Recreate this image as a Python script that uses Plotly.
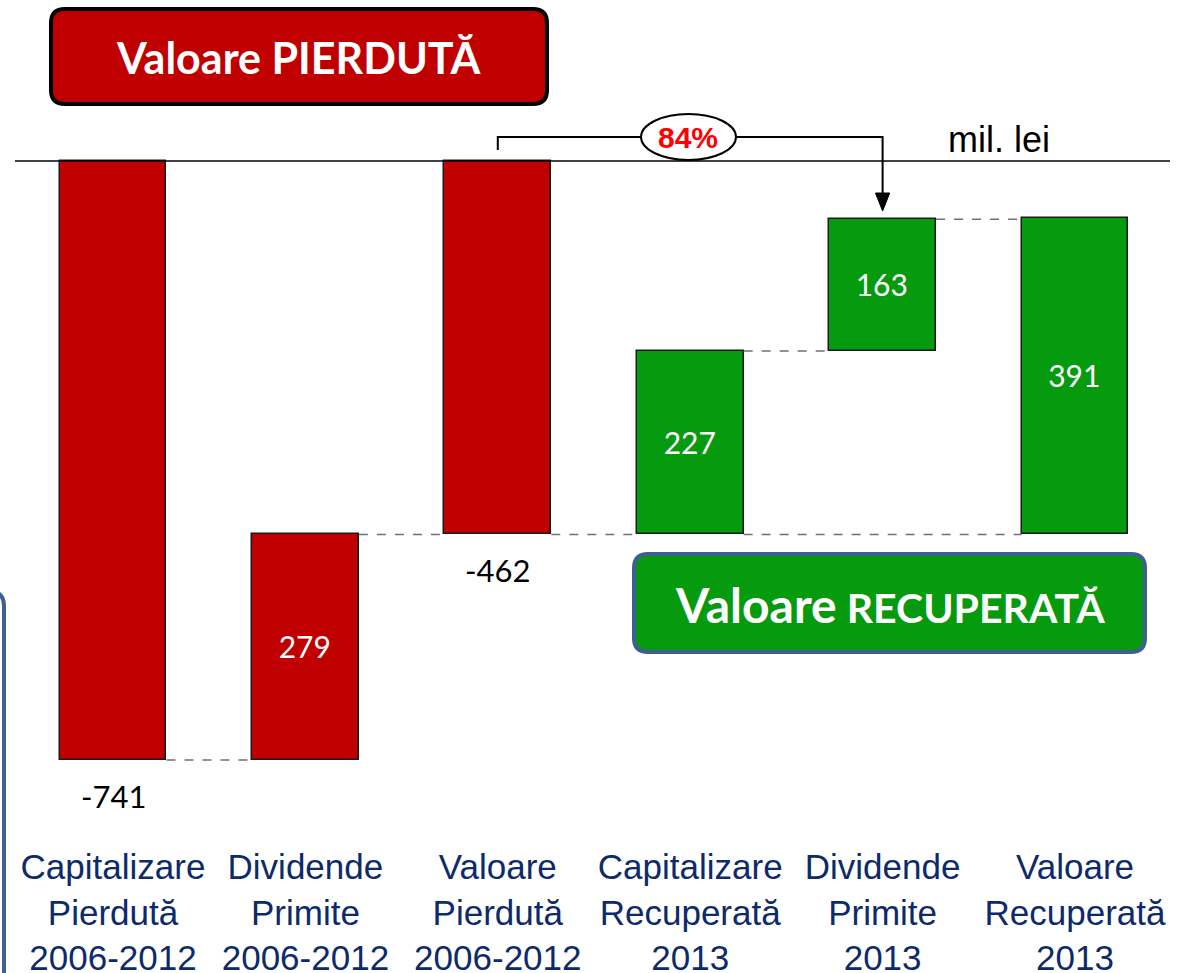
import plotly.graph_objects as go

# ---------------- data ----------------
categories = [
    "Capitalizare<br>Pierdută<br>2006-2012",
    "Dividende<br>Primite<br>2006-2012",
    "Valoare<br>Pierdută<br>2006-2012",
    "Capitalizare<br>Recuperată<br>2013",
    "Dividende<br>Primite<br>2013",
    "Valoare<br>Recuperată<br>2013",
]
values = [-741, 279, -462, 227, 163, 391]
bases = [0, -741, 0, -462, -235, -462]
bar_colors = ["#C00000", "#C00000", "#C00000", "#069A0E", "#069A0E", "#069A0E"]
percent_label = "84%"
unit_label = "mil. lei"
title_lost = "Valoare PIERDUTĂ"
title_rec_a = "Valoare"
title_rec_b = "RECUPERATĂ"

# ---------------- geometry helpers ----------------
W, H = 1178, 973
PLOT_BOTTOM = 840          # pixel y of plot area bottom
BW = 0.556                 # bar width in category units
PX_PER_UNIT = 0.8084
ZERO_PX = 161
X0_PX, STEP_PX = 113, 192.4

def px_x(px):
    return px / W

def px_y(py):
    return (PLOT_BOTTOM - py) / PLOT_BOTTOM

def val_from_px(py):
    return (ZERO_PX - py) / PX_PER_UNIT

def cat_from_px(px):
    return (px - X0_PX) / STEP_PX

def rounded_rect(x0, y0, x1, y1, r):
    pts = [
        ("M", (x0 + r, y0)), ("L", (x1 - r, y0)), ("Q", (x1, y0), (x1, y0 + r)),
        ("L", (x1, y1 - r)), ("Q", (x1, y1), (x1 - r, y1)), ("L", (x0 + r, y1)),
        ("Q", (x0, y1), (x0, y1 - r)), ("L", (x0, y0 + r)), ("Q", (x0, y0), (x0 + r, y0)),
    ]
    out = []
    for p in pts:
        cmd = p[0]
        coords = " ".join(f"{px_x(a):.5f},{px_y(b):.5f}" for a, b in p[1:])
        out.append(f"{cmd}{coords}")
    return " ".join(out) + " Z"

x_idx = list(range(len(categories)))
ends = [b + v for b, v in zip(bases, values)]

fig = go.Figure()

# ---------------- connectors ----------------
connectors = [(0, 1, ends[0]), (1, 2, ends[1]), (2, 3, bases[3]),
              (3, 4, ends[3]), (4, 5, ends[4]), (3, 5, bases[5])]
cx, cy = [], []
for a, b, lvl in connectors:
    cx += [a + BW / 2, b - BW / 2, None]
    cy += [lvl, lvl, None]
fig.add_trace(go.Scatter(x=cx, y=cy, mode="lines",
                         line=dict(color="#707070", width=1.5, dash="dash"),
                         hoverinfo="skip", showlegend=False))

# ---------------- bars ----------------
inside_text = [str(v) if v > 0 else "" for v in values]
fig.add_trace(go.Bar(
    x=x_idx, y=values, base=bases, width=BW,
    marker=dict(color=bar_colors, line=dict(color="#1a1a1a", width=1.5)),
    text=inside_text, textposition="inside", insidetextanchor="middle",
    textfont=dict(family="Lato", size=30, color="white"),
    constraintext="none", showlegend=False, hoverinfo="skip",
))

# negative totals labels below bars
for i, v in enumerate(values):
    if v < 0:
        fig.add_annotation(x=i, y=ends[i], text=str(v), showarrow=False,
                           yshift=-36, yanchor="middle",
                           font=dict(family="Lato", size=31, color="black"))

# ---------------- shapes ----------------
shapes = []
# zero line
shapes.append(dict(type="line", xref="paper", yref="y", x0=px_x(15), x1=px_x(1170),
                   y0=0, y1=0, line=dict(color="black", width=1.5), layer="above"))
# bracket
yb = val_from_px(137)
yb0 = val_from_px(150)
shapes.append(dict(type="path", xref="x", yref="y",
                   path=f"M2,{yb0} L2,{yb} L4,{yb} L4,{val_from_px(200)}",
                   line=dict(color="black", width=2)))
# arrowhead
tip = val_from_px(211)
top = val_from_px(193)
shapes.append(dict(type="path", xref="x", yref="y",
                   path=f"M{4-0.037},{top} L{4+0.037},{top} L4,{tip} Z",
                   fillcolor="black", line=dict(color="black", width=1)))
# ellipse
shapes.append(dict(type="circle", xref="x", yref="y",
                   x0=cat_from_px(641), x1=cat_from_px(736),
                   y0=val_from_px(160), y1=val_from_px(114),
                   fillcolor="white", line=dict(color="black", width=2)))
# title boxes
shapes.append(dict(type="path", xref="paper", yref="paper",
                   path=rounded_rect(51, 9, 547, 104, 14),
                   fillcolor="#C00000", line=dict(color="black", width=4)))
shapes.append(dict(type="path", xref="paper", yref="paper",
                   path=rounded_rect(634, 554, 1145, 652, 14),
                   fillcolor="#069A0E", line=dict(color="#3E5F8F", width=4)))
# left partial frame
shapes.append(dict(type="path", xref="paper", yref="paper",
                   path=(f"M{px_x(-20):.5f},{px_y(592):.5f} L{px_x(-8):.5f},{px_y(592):.5f} "
                         f"Q{px_x(4):.5f},{px_y(592):.5f} {px_x(4):.5f},{px_y(606):.5f} "
                         f"L{px_x(4):.5f},{px_y(990):.5f}"),
                   line=dict(color="#3E5F8F", width=4)))

# ---------------- annotations ----------------
fig.add_annotation(x=cat_from_px(688), y=val_from_px(137), text=f"<b>{percent_label}</b>",
                   showarrow=False, xanchor="center", yanchor="middle",
                   font=dict(family="Liberation Sans", size=30, color="#FF0000"))
fig.add_annotation(x=cat_from_px(999), y=val_from_px(139), text=unit_label, showarrow=False,
                   xanchor="center", yanchor="middle",
                   font=dict(family="Liberation Sans", size=36, color="black"))
fig.add_annotation(xref="paper", yref="paper", x=px_x(299), y=px_y(58), text=f"<b>{title_lost}</b>",
                   showarrow=False, xanchor="center", yanchor="middle",
                   font=dict(family="Lato", size=43, color="white"))
fig.add_annotation(xref="paper", yref="paper", x=px_x(890), y=px_y(604),
                   text=f"<b><span style='font-size:48px'>{title_rec_a}</span> {title_rec_b}</b>",
                   showarrow=False, xanchor="center", yanchor="middle",
                   font=dict(family="Lato", size=41, color="white"))

fig.update_layout(
    width=W, height=H,
    margin=dict(l=0, r=0, t=0, b=H - PLOT_BOTTOM, autoexpand=False),
    plot_bgcolor="white", paper_bgcolor="white",
    shapes=shapes,
    bargap=0,
    xaxis=dict(range=[cat_from_px(0), cat_from_px(W)], tickvals=x_idx, ticktext=categories,
               showgrid=False, zeroline=False, showline=False, ticks="", automargin=False,
               tickfont=dict(family="Liberation Sans", size=35, color="#0D2A6B"),
               ticklabelstandoff=3, fixedrange=True),
    yaxis=dict(range=[val_from_px(PLOT_BOTTOM), val_from_px(0)], visible=False,
               automargin=False, fixedrange=True),
)

fig.write_html("out.html", config={"displayModeBar": False},
               post_script="document.body.style.margin='0px';document.body.style.overflow='hidden';")
